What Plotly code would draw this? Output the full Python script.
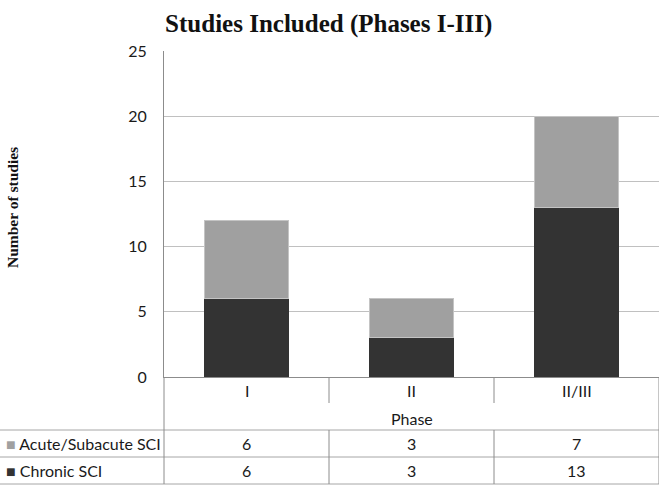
import plotly.graph_objects as go

phases = ["I", "II", "II/III"]
acute = [6, 3, 7]
chronic = [6, 3, 13]
series_names = ["Acute/Subacute SCI", "Chronic SCI"]
y_ticks = [0, 5, 10, 15, 20, 25]

ACUTE_COL = "#a0a0a0"
CHRONIC_COL = "#333333"
LINE_COL = "#a6a6a6"
TXT = "#1a1a1a"
SANS = "Lato, Open Sans, sans-serif"
SERIF = "Liberation Serif, Times New Roman, serif"

W, H = 660, 486
L, R, T, B = 164, 659, 51, 377  # plot area in pixels


def px(x):
    return (x - L) / (R - L)


def py(y):
    return (B - y) / (B - T)


fig = go.Figure()
fig.add_trace(go.Bar(x=phases, y=chronic, name=series_names[1],
                     marker=dict(color=CHRONIC_COL, line=dict(width=0))))
fig.add_trace(go.Bar(x=phases, y=acute, name=series_names[0],
                     marker=dict(color=ACUTE_COL, line=dict(color="#c4c4c4", width=1))))

shapes = []
# full-width table rows
for yy in [430, 457, 484]:
    shapes.append(dict(type="line", xref="paper", yref="paper", x0=px(0), x1=1,
                       y0=py(yy), y1=py(yy), line=dict(color=LINE_COL, width=1)))
# left edge of the category area, down through the table
shapes.append(dict(type="line", xref="paper", yref="paper", x0=0, x1=0,
                   y0=py(377), y1=py(484), line=dict(color="#8c8c8c", width=1)))
# category separators and right edge
n = len(phases)
for i in range(1, n + 1):
    xv = i - 0.5
    segs = [(377, 484)] if i == n else [(377, 403), (430, 484)]
    for a, b in segs:
        shapes.append(dict(type="line", xref="x", yref="paper", x0=xv, x1=xv,
                           y0=py(a), y1=py(b), line=dict(color="#8c8c8c", width=1)))

font = dict(family=SANS, size=16, color=TXT)
ann = []
for p in phases:
    ann.append(dict(x=p, xref="x", y=py(390), yref="paper", text=p, showarrow=False,
                    xanchor="center", yanchor="middle", font=font))
ann.append(dict(x=phases[n // 2], xref="x", y=py(418), yref="paper", text="Phase",
                showarrow=False, xanchor="center", yanchor="middle", font=font))

rows = [(series_names[0], ACUTE_COL, acute, 443.5), (series_names[1], CHRONIC_COL, chronic, 470.5)]
for name, col, vals, yy in rows:
    ann.append(dict(x=px(4), xref="paper", y=py(yy), yref="paper", xanchor="left",
                    yanchor="middle", text=f"<span style='color:{col}'>■</span> {name}",
                    showarrow=False, font=font))
    for p, v in zip(phases, vals):
        ann.append(dict(x=p, xref="x", y=py(yy), yref="paper", text=str(v),
                        xanchor="center", yanchor="middle", showarrow=False, font=font))

ann.append(dict(x=px(12), xref="paper", y=py(208), yref="paper", text="<b>Number of studies</b>",
                textangle=-90, showarrow=False, xanchor="center", yanchor="middle",
                font=dict(family=SERIF, size=15.5, color="#111")))

fig.update_layout(
    width=W, height=H,
    margin=dict(l=L, r=W - R, t=T, b=H - B, autoexpand=False),
    barmode="stack",
    bargap=0.49,
    plot_bgcolor="white",
    paper_bgcolor="white",
    showlegend=False,
    title=dict(text="<b>Studies Included (Phases I-III)</b>", x=0.498, xref="container",
               y=1 - 23 / H, yanchor="middle", xanchor="center",
               font=dict(family=SERIF, size=25, color="#111")),
    xaxis=dict(showticklabels=False, ticks="", showgrid=False, showline=True,
               linecolor="#8c8c8c", linewidth=1, range=[-0.5, n - 0.5]),
    yaxis=dict(range=[0, 25], tickvals=y_ticks, showgrid=True, gridcolor="#c0c0c0",
               gridwidth=1, zeroline=False, showline=True, linecolor="#8c8c8c",
               linewidth=1, ticks="", ticklabelstandoff=13,
               tickfont=dict(family=SANS, size=16, color=TXT)),
    shapes=shapes,
    annotations=ann,
)

fig.write_html("out.html", config={"displayModeBar": False},
               post_script="document.body.style.margin='0';")
